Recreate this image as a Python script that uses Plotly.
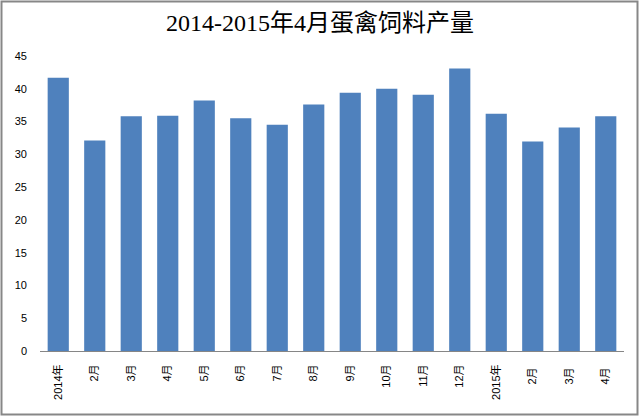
import plotly.graph_objects as go

categories = ["2014年", "2月", "3月", "4月", "5月", "6月", "7月", "8月",
              "9月", "10月", "11月", "12月", "2015年", "2月 ", "3月 ", "4月 "]
values = [41.7, 32.1, 35.8, 35.9, 38.2, 35.5, 34.5, 37.6,
          39.4, 40.0, 39.1, 43.1, 36.2, 31.95, 34.1, 35.8]
y_ticks = [0, 5, 10, 15, 20, 25, 30, 35, 40, 45]
title_text = "2014-2015年4月蛋禽饲料产量"

W, H = 640, 417
ml, mr, mt, mb = 40, 16, 56, 66
pw, ph = W - ml - mr, H - mt - mb

fig = go.Figure(go.Bar(x=categories, y=values, marker_color="#4F81BD",
                       marker_line_width=0))

fig.update_layout(
    width=W, height=H,
    margin=dict(l=ml, r=mr, t=mt, b=mb, pad=0, autoexpand=False),
    paper_bgcolor="white", plot_bgcolor="white",
    bargap=0.42,
    showlegend=False,
    title=dict(text=title_text, x=0.5, xanchor="center", y=1 - 23 / H, yanchor="middle",
               font=dict(family="Liberation Serif, Noto Sans CJK SC", size=24, color="black")),
    font=dict(family="Liberation Sans, Noto Sans CJK SC", size=11, color="black"),
)
fig.update_xaxes(
    type="category", tickangle=-90, showline=True, linecolor="#868686", linewidth=1,
    showgrid=False, ticks="", ticklabelstandoff=8, automargin=False,
    tickfont=dict(size=11),
)
fig.update_yaxes(
    range=[0, 45], tickvals=y_ticks, showgrid=False, zeroline=False, showline=False,
    ticks="", ticklabelstandoff=12, tickfont=dict(size=11), automargin=False,
)
# outer border
fig.add_shape(type="rect", xref="paper", yref="paper",
              x0=(1.5 - ml) / pw, x1=1 + (mr - 2.5) / pw,
              y0=-(mb - 2.5) / ph, y1=1 + (mt - 1.5) / ph,
              line=dict(color="#878787", width=2), fillcolor="rgba(0,0,0,0)")

fig.write_html("out.html", config={"displayModeBar": False, "staticPlot": True},
               post_script="document.body.style.margin='0';document.body.style.overflow='hidden';")
